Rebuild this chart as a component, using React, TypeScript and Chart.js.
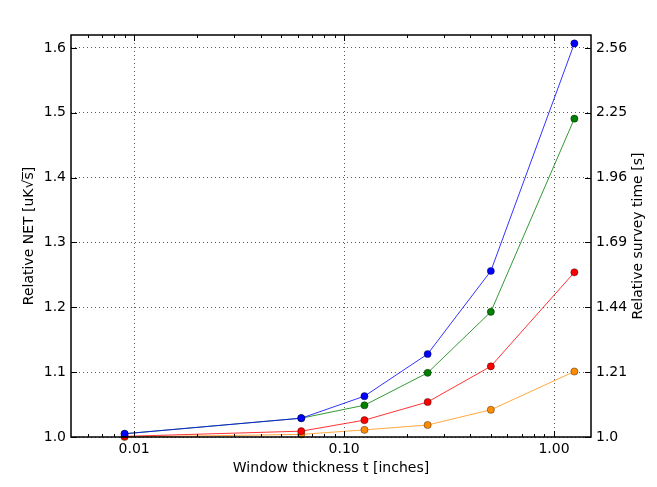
import React, { useEffect, useRef } from "react";
import { Chart, registerables } from "chart.js";

Chart.register(...registerables);

const thickness = [0.009, 0.0625, 0.125, 0.25, 0.5, 1.25];
const seriesBlue = [1.005, 1.029, 1.063, 1.128, 1.256, 1.607];
const seriesGreen = [1.005, 1.029, 1.049, 1.099, 1.193, 1.491];
const seriesRed = [1.001, 1.009, 1.026, 1.054, 1.109, 1.254];
const seriesOrange = [1.0, 1.004, 1.011, 1.0185, 1.042, 1.101];

const xMajorTicks = [0.01, 0.1, 1.0];
const xTickLabels = ["0.01", "0.10", "1.00"];
const yTicks = [1.0, 1.1, 1.2, 1.3, 1.4, 1.5, 1.6];
const yTickLabels = ["1.0", "1.1", "1.2", "1.3", "1.4", "1.5", "1.6"];
const rightTickLabels = ["1.0", "1.21", "1.44", "1.69", "1.96", "2.25", "2.56"];

const FONT = "'DejaVu Sans', sans-serif";

const framePlugin = {
  id: "framePlugin",
  afterDraw(chart: any) {
    const { ctx, chartArea } = chart;
    const { left, right, top, bottom } = chartArea;
    const xs = chart.scales.x;
    const ys = chart.scales.y;
    ctx.save();
    ctx.strokeStyle = "#000";
    ctx.lineWidth = 1;
    ctx.beginPath();
    // minor + major ticks on x (inward, bottom & top)
    const minors: number[] = [];
    for (let d = -3; d <= 0; d++) {
      for (let m = 2; m <= 9; m++) {
        const v = m * Math.pow(10, d);
        if (v > xs.min && v < xs.max) minors.push(v);
      }
    }
    minors.forEach((v) => {
      const px = Math.round(xs.getPixelForValue(v)) + 0.5;
      ctx.moveTo(px, bottom);
      ctx.lineTo(px, bottom - 3);
      ctx.moveTo(px, top);
      ctx.lineTo(px, top + 3);
    });
    xMajorTicks.forEach((v) => {
      const px = Math.round(xs.getPixelForValue(v)) + 0.5;
      ctx.moveTo(px, bottom);
      ctx.lineTo(px, bottom - 6);
      ctx.moveTo(px, top);
      ctx.lineTo(px, top + 6);
    });
    yTicks.forEach((v) => {
      const py = Math.round(ys.getPixelForValue(v)) + 0.5;
      ctx.moveTo(left, py);
      ctx.lineTo(left + 6, py);
      ctx.moveTo(right, py);
      ctx.lineTo(right - 6, py);
    });
    ctx.stroke();
    ctx.lineWidth = 1.5;
    ctx.strokeRect(left, top, right - left, bottom - top);
    // right axis title
    ctx.fillStyle = "#000";
    ctx.font = "14px " + FONT;
    ctx.textAlign = "center";
    ctx.textBaseline = "middle";
    ctx.translate(638, (top + bottom) / 2);
    ctx.rotate(-Math.PI / 2);
    ctx.fillText("Relative survey time [s]", 0, 0);
    ctx.restore();
  },
};

export default function App() {
  const ref = useRef<HTMLCanvasElement>(null);
  useEffect(() => {
    if (!ref.current) return;
    const mk = (label: string, data: number[], line: string, fill: string) => ({
      label,
      data: thickness.map((x, i) => ({ x, y: data[i] })),
      borderColor: line,
      borderWidth: 1,
      backgroundColor: fill,
      pointBackgroundColor: fill,
      pointBorderColor: "rgba(0,0,0,0.55)",
      pointBorderWidth: 0.7,
      pointRadius: 3.6,
      tension: 0,
      clip: false as any,
    });
    const chart = new Chart(ref.current, {
      type: "line",
      data: {
        datasets: [
          mk("blue", seriesBlue, "rgba(0,0,255,0.8)", "#0000ff"),
          mk("green", seriesGreen, "rgba(0,128,0,0.8)", "#008000"),
          mk("red", seriesRed, "rgba(255,0,0,0.8)", "#ff0000"),
          mk("orange", seriesOrange, "rgba(255,140,0,0.75)", "#ff8c00"),
        ],
      },
      options: {
        animation: false,
        responsive: false,
        devicePixelRatio: 1,
        layout: { padding: { top: 35, left: 0, right: 0, bottom: 0 } },
        plugins: { legend: { display: false }, tooltip: { enabled: false } },
        scales: {
          x: {
            type: "logarithmic",
            position: "bottom",
            min: 0.005,
            max: 1.5,
            afterBuildTicks: (s: any) => {
              s.ticks = xMajorTicks.map((v) => ({ value: v, major: true }));
            },
            afterFit: (s: any) => {
              s.height = 50;
            },
            ticks: {
              autoSkip: false,
              maxRotation: 0,
              padding: 4,
              color: "#000",
              font: { family: FONT, size: 14 },
              callback: (v: any) => {
                const i = xMajorTicks.findIndex((t) => Math.abs(t - v) < 1e-9);
                return i >= 0 ? xTickLabels[i] : "";
              },
            },
            grid: { color: "rgba(0,0,0,0.65)", lineWidth: 1, drawTicks: false },
            border: { display: false, dash: [1, 3] },
            title: {
              display: true,
              text: "Window thickness t [inches]",
              color: "#000",
              font: { family: FONT, size: 14 },
              padding: { top: 0, bottom: 10 },
            },
          },
          y: {
            type: "linear",
            position: "left",
            min: 1.0,
            max: 1.62,
            afterBuildTicks: (s: any) => {
              s.ticks = yTicks.map((v) => ({ value: v }));
            },
            afterFit: (s: any) => {
              s.width = 71;
            },
            ticks: {
              padding: 5,
              color: "#000",
              font: { family: FONT, size: 14 },
              callback: (v: any) => {
                const i = yTicks.findIndex((t) => Math.abs(t - v) < 1e-9);
                return i >= 0 ? yTickLabels[i] : "";
              },
            },
            grid: { color: "rgba(0,0,0,0.65)", lineWidth: 1, drawTicks: false },
            border: { display: false, dash: [1, 3] },
            title: {
              display: true,
              text: "Relative NET [uK\u221As\u0305]",
              color: "#000",
              font: { family: FONT, size: 14 },
              padding: { top: 21, bottom: 0 },
            },
          },
          y2: {
            type: "linear",
            position: "right",
            min: 1.0,
            max: 1.62,
            afterBuildTicks: (s: any) => {
              s.ticks = yTicks.map((v) => ({ value: v }));
            },
            afterFit: (s: any) => {
              s.width = 66;
            },
            ticks: {
              padding: 5,
              color: "#000",
              font: { family: FONT, size: 14 },
              callback: (v: any) => {
                const i = yTicks.findIndex((t) => Math.abs(t - v) < 1e-9);
                return i >= 0 ? rightTickLabels[i] : "";
              },
            },
            grid: { display: false, drawTicks: false },
            border: { display: false },
          },
        },
      },
      plugins: [framePlugin],
    });
    return () => chart.destroy();
  }, []);
  return (
    <div style={{ position: "fixed", left: 0, top: 0, width: 657, height: 487, background: "#fff" }}>
      <canvas ref={ref} width={657} height={487} />
    </div>
  );
}
